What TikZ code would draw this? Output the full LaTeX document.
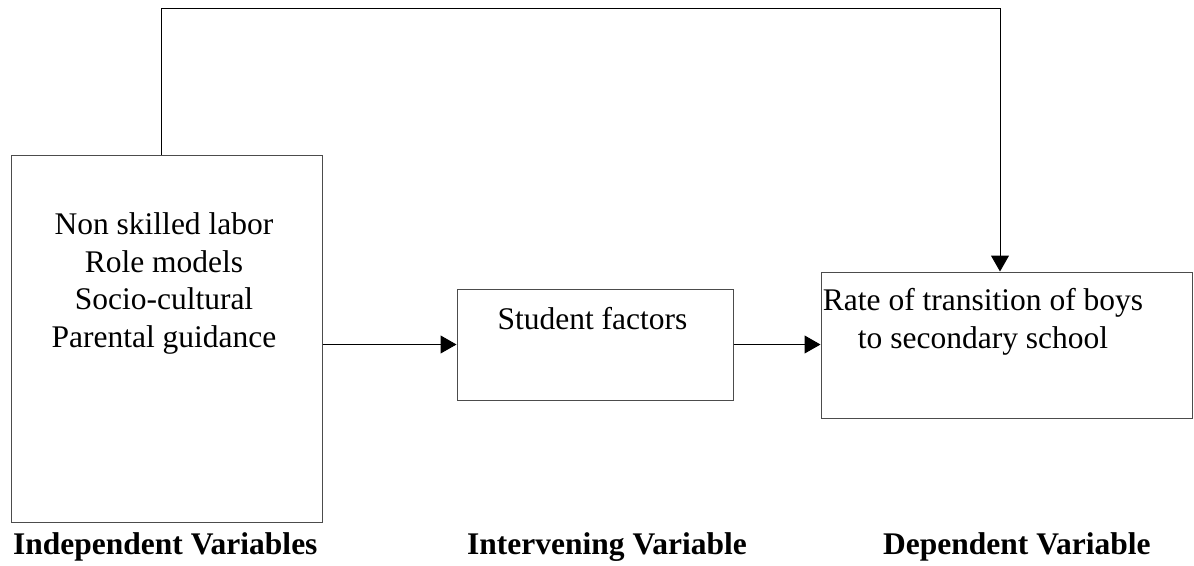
\documentclass[tikz,border=0pt]{standalone}
\usepackage{fontspec}
\setmainfont{Liberation Serif}
\usetikzlibrary{arrows.meta}
\begin{document}
\begin{tikzpicture}[x=1pt,y=-1pt,
   box/.style={draw=black!70,line width=1pt,minimum width=#1,inner sep=0pt},
   txt/.style={font=\fontsize{31.5}{37.5}\selectfont,align=center,anchor=base,inner sep=0pt},
   lab/.style={font=\fontsize{31.5}{37.5}\selectfont\bfseries,anchor=base west,inner sep=0pt},
   conn/.style={line width=1pt,-{Triangle[length=16pt,width=18pt]}}]
   \useasboundingbox (0,0) rectangle (1194,565);
   % boxes
   \node[box=311pt,minimum height=367pt] (indep) at (166.5,338.5) {};
   \node[box=276pt,minimum height=111pt] (stud)  at (595,344.5) {};
   \node[box=371pt,minimum height=146pt] (dep)   at (1006.5,345) {};
   % box texts (base = last line)
   \node[txt] (indeptxt) at (164,347) {Non skilled labor\\Role models\\Socio-cultural\\Parental guidance};
   \node[txt] (studtxt)  at (592.5,329) {Student factors};
   \node[txt] (deptxt)   at (983,348) {Rate of transition of boys\\to secondary school};
   % captions
   \node[lab] (indeplab) at (13,554)  {Independent Variables};
   \node[lab] (studlab)  at (467,554) {Intervening Variable};
   \node[lab] (deplab)   at (883,554) {Dependent Variable};
   % connectors
   \draw[conn] (stud.west -| indep.east) -- (stud.west);
   \draw[conn] (stud.east) -- (stud.east -| dep.west);
   \draw[conn] ([xshift=-5.5pt]indep.north) -- ++(0,-146) -| ([xshift=-6.5pt]dep.north);
\end{tikzpicture}
\end{document}
